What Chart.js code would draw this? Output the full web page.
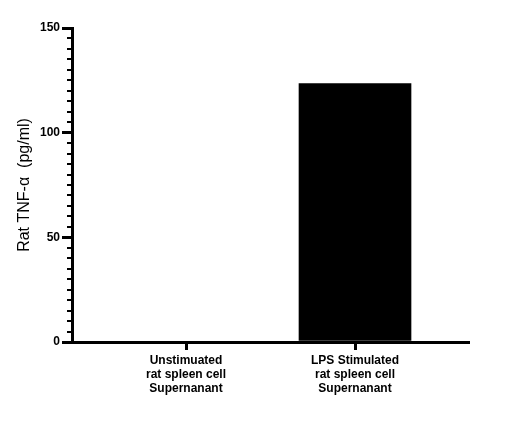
<!DOCTYPE html>
<html>
<head>
<meta charset="utf-8">
<script src="https://cdn.jsdelivr.net/npm/chart.js@4"></script>
<style>
html,body{margin:0;padding:0;background:#fff;}
canvas{display:block;}
</style>
</head>
<body>
<canvas id="c" width="509" height="425"></canvas>
<script>
const categories = [
  ["Unstimuated", "rat spleen cell", "Supernanant"],
  ["LPS Stimulated", "rat spleen cell", "Supernanant"]
];
const values = [0, 123.5];
const yTicks = [0, 50, 100, 150];
const yMinorStep = 5;
const yTitle = "Rat TNF-\u03B1  (pg/ml)";

const minorTicks = {
  id: 'minorTicks',
  afterDraw(chart) {
    const y = chart.scales.y;
    const ctx = chart.ctx;
    const x0 = chart.chartArea.left;
    ctx.save();
    ctx.strokeStyle = '#000';
    ctx.lineWidth = 2;
    for (let v = y.min; v <= y.max; v += yMinorStep) {
      if (yTicks.includes(v)) continue;
      const py = Math.round(y.getPixelForValue(v));
      ctx.beginPath();
      ctx.moveTo(x0 - 5, py);
      ctx.lineTo(x0, py);
      ctx.stroke();
    }
    ctx.restore();
  }
};

new Chart(document.getElementById('c'), {
  type: 'bar',
  data: {
    datasets: [{
      data: values.map((v, i) => ({x: i, y: v})),
      backgroundColor: '#000',
      borderWidth: 0,
      barThickness: 112
    }]
  },
  options: {
    responsive: false,
    animation: false,
    layout: {padding: {top: 28, right: 41, left: 0, bottom: 0}},
    plugins: {legend: {display: false}, tooltip: {enabled: false}},
    scales: {
      x: {
        type: 'linear',
        min: -0.6746,
        max: 1.6686,
        offset: false,
        afterBuildTicks(s) { s.ticks = categories.map((c, i) => ({value: i})); },
        afterFit(s) { s.height = 425 - 342; },
        ticks: {
          callback: (v) => categories[v],
          color: '#000',
          font: {family: 'Liberation Sans, Arial, sans-serif', size: 12, weight: 'bold'},
          padding: 3,
          maxRotation: 0,
          autoSkip: false
        },
        grid: {offset: false, drawOnChartArea: false, color: '#000', tickLength: 8, tickWidth: 3, lineWidth: 3},
        border: {color: '#000', width: 3}
      },
      y: {
        min: 0,
        max: 150,
        afterBuildTicks(s) { s.ticks = yTicks.map(v => ({value: v})); },
        afterFit(s) { s.width = 72; },
        ticks: {
          color: '#000',
          font: {family: 'Liberation Sans, Arial, sans-serif', size: 12, weight: 'bold'},
          padding: 2
        },
        grid: {drawOnChartArea: false, color: '#000', tickLength: 10, tickWidth: 3, lineWidth: 3},
        border: {color: '#000', width: 3},
        title: {
          display: true,
          text: yTitle,
          color: '#000',
          font: {family: 'Liberation Sans, Arial, sans-serif', size: 16},
          padding: {top: 15, bottom: 0}
        }
      }
    }
  },
  plugins: [minorTicks]
});
</script>
</body>
</html>
